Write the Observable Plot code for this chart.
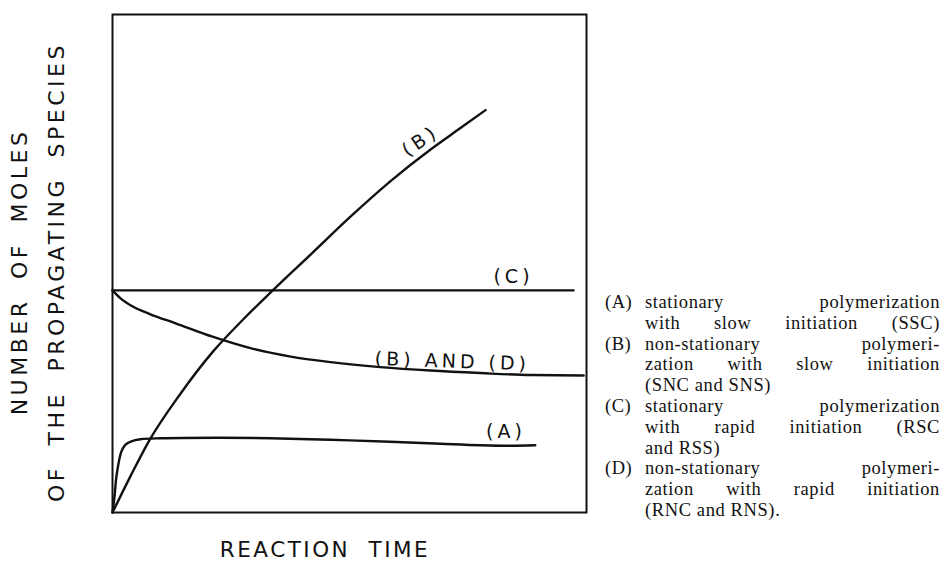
<!DOCTYPE html>
<html><head><meta charset="utf-8">
<script src="https://cdn.jsdelivr.net/npm/d3@7"></script>
<script src="https://cdn.jsdelivr.net/npm/@observablehq/plot@0.6"></script>
<style>
body{margin:0;background:#fff;}
#wrap{position:relative;width:948px;height:568px;overflow:hidden;background:#fff;}
#chart svg text{letter-spacing:4px;white-space:pre;}
.lab{position:absolute;font-family:"DejaVu Sans",sans-serif;letter-spacing:3.5px;word-spacing:9px;white-space:pre;color:#111;line-height:1;}
.rot{font-size:22px;transform:translate(-50%,-50%) rotate(-90deg);}
.hor{font-size:21.5px;letter-spacing:2.5px;transform:translate(-50%,-50%);}
#legend{position:absolute;left:605px;top:292px;width:335px;font-family:"Liberation Serif","Times New Roman",serif;font-size:18.5px;line-height:20.8px;letter-spacing:0.6px;color:#111;}
#legend .row{display:flex;height:20.8px;}
#legend .key{width:40px;flex:none;letter-spacing:0.5px;}
#legend .txt{flex:1;white-space:nowrap;display:flex;justify-content:space-between;}
#legend .txt.left{justify-content:flex-start;}
</style></head>
<body><div id="wrap"><div id="chart"></div></div>
<script>
// ---- data (x: reaction time, arbitrary 0-100; y: number of moles, arbitrary 0-100) ----
const timeA = [0, 0.4, 0.8, 1.3, 1.9, 2.7, 4.0, 5.9, 10.1, 22.8, 33.3, 46.0, 58.6, 69.2, 77.6, 84.0, 89.2];
const molesA = [0, 3.0, 7.0, 10.0, 12.3, 13.6, 14.3, 14.7, 14.9, 15.0, 14.9, 14.6, 14.2, 13.8, 13.5, 13.4, 13.5];

const timeB = [0, 3.8, 7.6, 14.3, 21.1, 27.4, 33.8, 41.8, 50.2, 58.6, 67.1, 73.4, 78.7];
const molesB = [0, 7.3, 14.2, 23.8, 32.2, 38.6, 44.6, 51.8, 59.4, 66.5, 72.9, 77.2, 80.8];

const timeC = [0, 97.3];
const molesC = [44.6, 44.6];

const timeBD = [0, 1.7, 4.2, 8.0, 13.3, 21.1, 29.1, 37.6, 46.0, 56.5, 67.1, 77.6, 88.2, 99.4];
const molesBD = [44.6, 43.0, 41.4, 39.8, 38.0, 35.3, 33.0, 31.3, 30.2, 29.2, 28.5, 28.0, 27.6, 27.5];

const labelTexts = ["(B)", "(C)", "(B) AND (D)", "(A)"];
const labelTimes = [65, 84.6, 71.7, 83];
const labelMoles = [71.4, 44.6, 28.3, 13.6];
const labelAngles = [-34, 0, 2, 0];
const labelLift = [-16, -13, -10, -13];

const yTitle = ["NUMBER OF MOLES", "OF THE PROPAGATING SPECIES"];
const xTitle = "REACTION TIME";

const legendKeys = ["(A)", "(B)", "(C)", "(D)"];
const legendLines = [
  ["stationary polymerization", "with slow initiation (SSC)"],
  ["non-stationary polymeri-", "zation with slow initiation", "(SNC and SNS)"],
  ["stationary polymerization", "with rapid initiation (RSC", "and RSS)"],
  ["non-stationary polymeri-", "zation with rapid initiation", "(RNC and RNS)."]
];

// ---- build tables ----
const toRows = (ts, vs) => ts.map((t, i) => ({t, v: vs[i]}));
const rowsA = toRows(timeA, molesA);
const rowsB = toRows(timeB, molesB);
const rowsC = toRows(timeC, molesC);
const rowsBD = toRows(timeBD, molesBD);
const labels = labelTexts.map((text, i) => ({text, t: labelTimes[i], v: labelMoles[i], a: labelAngles[i], dy: labelLift[i]}));

const ink = "#111";
const chart = Plot.plot({
  width: 948, height: 568,
  marginLeft: 112, marginRight: 362, marginTop: 14, marginBottom: 56,
  x: {domain: [0, 100], axis: null},
  y: {domain: [0, 100], axis: null},
  marks: [
    Plot.frame({stroke: ink, strokeWidth: 2}),
    Plot.line(rowsC, {x: "t", y: "v", stroke: ink, strokeWidth: 2.2}),
    Plot.line(rowsB, {x: "t", y: "v", stroke: ink, strokeWidth: 2.4, curve: "monotone-x"}),
    Plot.line(rowsBD, {x: "t", y: "v", stroke: ink, strokeWidth: 2.4, curve: "monotone-x"}),
    Plot.line(rowsA, {x: "t", y: "v", stroke: ink, strokeWidth: 2.4, curve: "catmull-rom"}),
    ...labels.map(d => Plot.text([d], {x: "t", y: "v", text: "text", rotate: d.a, dy: d.dy, fontSize: 19, fontFamily: "DejaVu Sans", fill: ink}))
  ]
});
document.getElementById("chart").appendChild(chart);

const wrap = d3.select("#wrap");
wrap.append("div").attr("class", "lab rot").style("left", "20px").style("top", "272px").text(yTitle[0]);
wrap.append("div").attr("class", "lab rot").style("left", "57px").style("top", "272px").text(yTitle[1]);
wrap.append("div").attr("class", "lab hor").style("left", "325px").style("top", "550px").text(xTitle);

const legend = wrap.append("div").attr("id", "legend");
legendKeys.forEach((k, i) => {
  legendLines[i].forEach((line, j) => {
    const row = legend.append("div").attr("class", "row");
    row.append("div").attr("class", "key").text(j === 0 ? k : "");
    const isLast = j === legendLines[i].length - 1 && legendLines[i].length > 2;
    const txt = row.append("div").attr("class", "txt" + (isLast ? " left" : ""));
    const words = line.split(" ");
    words.forEach((w, wi) => txt.append("span").text(w + (isLast && wi < words.length - 1 ? "\u00a0" : "")));
  });
});
</script></body></html>
